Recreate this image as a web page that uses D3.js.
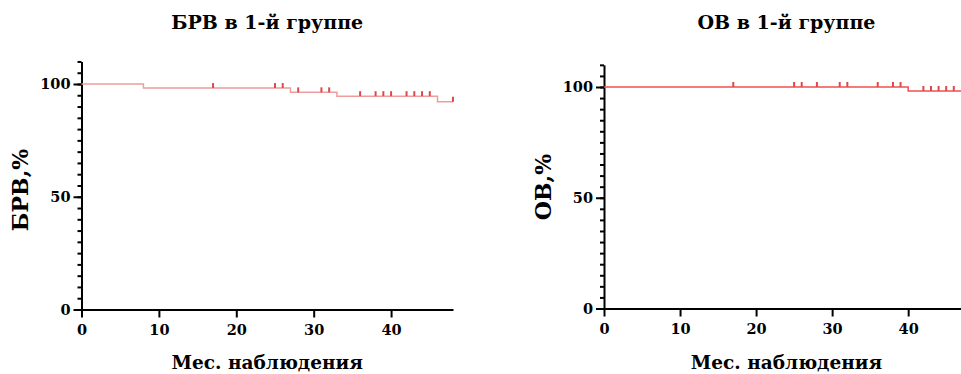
<!DOCTYPE html>
<html>
<head>
<meta charset="utf-8">
<script src="https://cdn.jsdelivr.net/npm/d3@7"></script>
<style>
  body { margin: 0; background: #fff; }
  .axis path, .axis line { stroke: #000; stroke-width: 2px; }
</style>
</head>
<body>
<svg id="chart" width="961" height="374"></svg>
<script>
// data
const xTicks = [0, 10, 20, 30, 40]
const yTicks = [0, 50, 100]

// left panel: БРВ
const brvTimes = [0, 8, 27, 33, 46, 48]
const brvValues = [100, 98.2, 96.3, 94.6, 92.1, 92.1]
const brvCensored = [17, 25, 26, 28, 31, 32, 36, 38, 39, 40, 42, 43, 44, 45, 48]

// right panel: ОВ
const ovTimes = [0, 40, 48]
const ovValues = [100, 98.2, 98.2]
const ovCensored = [17, 25, 26, 28, 31, 32, 36, 38, 39, 42, 43, 44, 45, 46]

const serif = "'DejaVu Serif', serif"

let svg = d3.select("#chart")

function drawPanel(p) {
    let g = svg.append("g")

    let xScale = d3.scaleLinear().domain([0, 48]).range([p.x0, p.x1])
    let yScale = d3.scaleLinear().domain([0, 110]).range([p.y0, p.y0 - 110 * p.k])

    // minor y ticks every 5
    g.append("g")
        .attr("class", "axis")
        .attr("transform", `translate(${p.x0},0)`)
        .call(d3.axisLeft(yScale).tickValues(d3.range(0, 111, 5)).tickSize(4).tickFormat(""))
        .select(".domain").remove()

    // y axis
    let yAxis = g.append("g")
        .attr("class", "axis")
        .attr("transform", `translate(${p.x0},0)`)
        .call(d3.axisLeft(yScale).tickValues(yTicks).tickSize(8).tickSizeOuter(0).tickPadding(3))
    yAxis.attr("font-family", serif).attr("font-size", 14.5).attr("font-weight", "bold")

    // x axis
    let xAxis = g.append("g")
        .attr("class", "axis")
        .attr("transform", `translate(0,${p.y0})`)
        .call(d3.axisBottom(xScale).tickValues(xTicks).tickSize(8).tickSizeOuter(0).tickPadding(7))
    xAxis.attr("font-family", serif).attr("font-size", 14.5).attr("font-weight", "bold")

    // survival curve
    let pts = p.times.map((t, i) => [t, p.values[i]])
    let line = d3.line()
        .x(d => xScale(d[0]))
        .y(d => yScale(d[1]))
        .curve(d3.curveStepAfter)

    g.append("path")
        .datum(pts)
        .attr("d", line)
        .attr("fill", "none")
        .attr("stroke", p.color)
        .attr("stroke-width", 1.5)

    // censor marks
    function valueAt(t) {
        let v = p.values[0]
        p.times.forEach((tt, i) => { if (tt <= t) v = p.values[i] })
        return v
    }
    g.selectAll(".cens")
        .data(p.censored)
        .enter()
        .append("line")
        .attr("x1", d => xScale(d))
        .attr("x2", d => xScale(d))
        .attr("y1", d => yScale(valueAt(d)))
        .attr("y2", d => yScale(valueAt(d)) - 5)
        .attr("stroke", "#e04848")
        .attr("stroke-width", 2)

    let cx = (p.x0 + p.x1) / 2

    let txt = g.append("g")
        .attr("font-family", serif)
        .attr("font-weight", "bold")
        .attr("fill", "#000")

    // title
    txt.append("text")
        .attr("x", cx)
        .attr("y", 29)
        .attr("text-anchor", "middle")
        .attr("font-size", 19)
        .text(p.title)

    // x label
    txt.append("text")
        .attr("x", cx)
        .attr("y", 369)
        .attr("text-anchor", "middle")
        .attr("font-size", 18.5)
        .text("Мес. наблюдения")

    // y label
    txt.append("text")
        .attr("transform", `translate(${p.ylabX},${p.ylabY}) rotate(-90)`)
        .attr("text-anchor", "middle")
        .attr("font-size", 22)
        .text(p.ylabel)
}

drawPanel({
    x0: 81.5, x1: 453, y0: 309.5, k: 2.255,
    times: brvTimes, values: brvValues, censored: brvCensored,
    color: "#ec9e9e", title: "БРВ в 1-й группе", ylabel: "БРВ,%",
    ylabX: 28, ylabY: 190
})

drawPanel({
    x0: 604, x1: 969, y0: 308.5, k: 2.215,
    times: ovTimes, values: ovValues, censored: ovCensored,
    color: "#f05050", title: "ОВ в 1-й группе", ylabel: "ОВ,%",
    ylabX: 551, ylabY: 187
})
</script>
</body>
</html>
